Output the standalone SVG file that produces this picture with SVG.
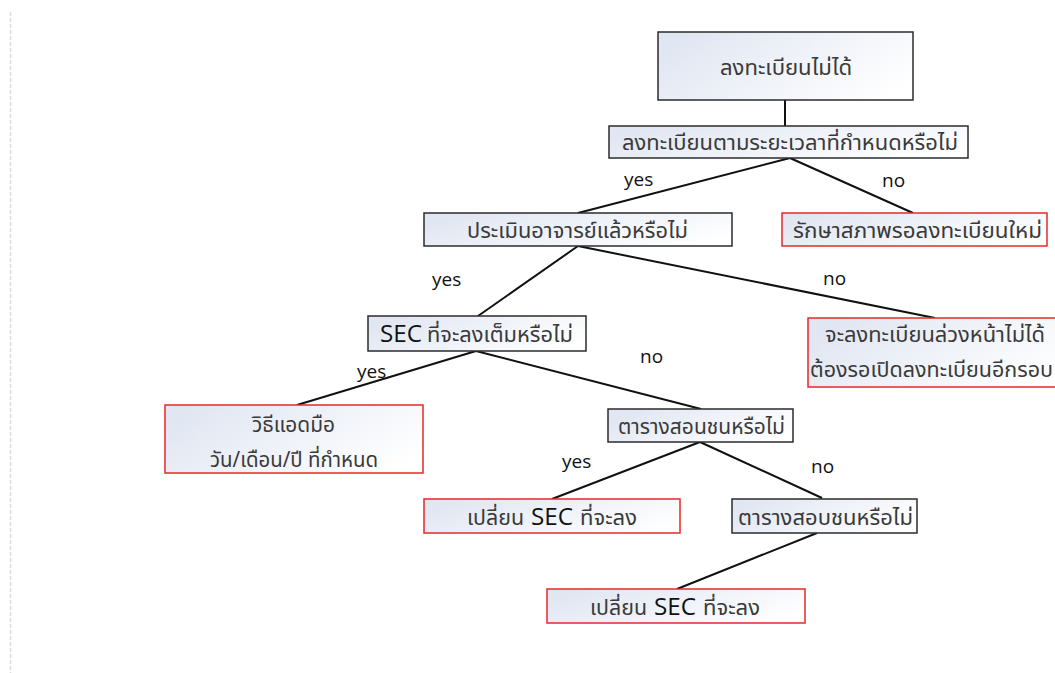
<svg xmlns="http://www.w3.org/2000/svg" width="1055" height="673" viewBox="0 0 1055 673">
  <style>
    .box { stroke: #2b2b2b; stroke-width: 1.5; fill: url(#g); }
    .rbox { stroke: #e8282b; stroke-width: 1.5; fill: url(#g); }
    .t { font-family: "Noto Sans", "Noto Sans Thai", "DejaVu Sans", sans-serif; font-size: 21px; fill: #3a3a3a; }
    .sec { font-family: "Open Sans", "Liberation Sans", sans-serif; font-size: 24px; fill: #111; }
    .lbl { font-family: "Open Sans", "Liberation Sans", sans-serif; font-size: 19px; fill: #111; }
    .c { stroke: #111; stroke-width: 2; fill: none; }
  </style>
  <defs>
    <linearGradient id="g" x1="0" y1="0.3" x2="1" y2="0.7">
      <stop offset="0" stop-color="#e0e6f2"/>
      <stop offset="1" stop-color="#ffffff"/>
    </linearGradient>
  </defs>
  <rect width="1055" height="673" fill="#ffffff"/>
  <line x1="10.5" y1="12" x2="10.5" y2="673" stroke="#dcdcdc" stroke-width="1.5" stroke-dasharray="4,2"/>

  <g id="connectors">
    <line class="c" x1="785" y1="100" x2="785" y2="126"/>
    <line class="c" x1="790" y1="158" x2="578" y2="213"/>
    <line class="c" x1="790" y1="158" x2="913" y2="213"/>
    <line class="c" x1="578" y1="246" x2="478" y2="316"/>
    <line class="c" x1="578" y1="246" x2="935" y2="318"/>
    <line class="c" x1="476" y1="351" x2="297" y2="405"/>
    <line class="c" x1="476" y1="351" x2="701" y2="409"/>
    <line class="c" x1="700" y1="442" x2="552" y2="499"/>
    <line class="c" x1="700" y1="442" x2="822" y2="498"/>
    <line class="c" x1="817" y1="533" x2="677" y2="589"/>
    <text class="lbl" x="624" y="186">yes</text>
    <text class="lbl" x="882" y="187">no</text>
    <text class="lbl" x="432" y="286">yes</text>
    <text class="lbl" x="823" y="285">no</text>
    <text class="lbl" x="357" y="378">yes</text>
    <text class="lbl" x="640" y="363">no</text>
    <text class="lbl" x="562" y="468">yes</text>
    <text class="lbl" x="811" y="473">no</text>
  </g>

  <g id="n1">
    <rect class="box" x="658" y="32" width="255" height="68"/>
    <text class="t" x="720" y="75" textLength="132" lengthAdjust="spacingAndGlyphs">ลงทะเบียนไม่ได้</text>
  </g>
  <g id="n2">
    <rect class="box" x="609" y="126" width="359" height="32"/>
    <text class="t" x="622" y="150" textLength="336" lengthAdjust="spacingAndGlyphs">ลงทะเบียนตามระยะเวลาที่กำหนดหรือไม่</text>
  </g>
  <g id="n3">
    <rect class="box" x="424" y="213" width="308" height="33"/>
    <text class="t" x="467" y="238" textLength="221" lengthAdjust="spacingAndGlyphs">ประเมินอาจารย์แล้วหรือไม่</text>
  </g>
  <g id="n4">
    <rect class="rbox" x="782" y="213" width="265" height="33"/>
    <text class="t" x="793" y="238" textLength="249" lengthAdjust="spacingAndGlyphs">รักษาสภาพรอลงทะเบียนใหม่</text>
  </g>
  <g id="n5">
    <rect class="box" x="368" y="316" width="218" height="35"/>
    <text class="sec" x="380" y="342" textLength="42" lengthAdjust="spacingAndGlyphs">SEC</text>
    <text class="t" x="427" y="342" textLength="146" lengthAdjust="spacingAndGlyphs">ที่จะลงเต็มหรือไม่</text>
  </g>
  <g id="n6">
    <rect class="rbox" x="808" y="318" width="260" height="69"/>
    <text class="t" x="825" y="342" textLength="220" lengthAdjust="spacingAndGlyphs">จะลงทะเบียนล่วงหน้าไม่ได้</text>
    <text class="t" x="810" y="377" textLength="243" lengthAdjust="spacingAndGlyphs">ต้องรอเปิดลงทะเบียนอีกรอบ</text>
  </g>
  <g id="n7">
    <rect class="rbox" x="165" y="405" width="258" height="68"/>
    <text class="t" x="252" y="432" textLength="83" lengthAdjust="spacingAndGlyphs">วิธีแอดมือ</text>
    <text class="t" x="210" y="467" textLength="168" lengthAdjust="spacingAndGlyphs">วัน/เดือน/ปี ที่กำหนด</text>
  </g>
  <g id="n8">
    <rect class="box" x="608" y="409" width="185" height="33"/>
    <text class="t" x="618" y="434" textLength="167" lengthAdjust="spacingAndGlyphs">ตารางสอนชนหรือไม่</text>
  </g>
  <g id="n9">
    <rect class="rbox" x="424" y="499" width="256" height="34"/>
    <text class="t" x="467" y="525" textLength="57" lengthAdjust="spacingAndGlyphs">เปลี่ยน</text>
    <text class="sec" x="531" y="525" textLength="42" lengthAdjust="spacingAndGlyphs">SEC</text>
    <text class="t" x="580" y="525" textLength="57" lengthAdjust="spacingAndGlyphs">ที่จะลง</text>
  </g>
  <g id="n10">
    <rect class="box" x="732" y="499" width="185" height="34"/>
    <text class="t" x="738" y="525" textLength="175" lengthAdjust="spacingAndGlyphs">ตารางสอบชนหรือไม่</text>
  </g>
  <g id="n11">
    <rect class="rbox" x="547" y="589" width="258" height="34"/>
    <text class="t" x="590" y="615" textLength="57" lengthAdjust="spacingAndGlyphs">เปลี่ยน</text>
    <text class="sec" x="654" y="615" textLength="42" lengthAdjust="spacingAndGlyphs">SEC</text>
    <text class="t" x="703" y="615" textLength="57" lengthAdjust="spacingAndGlyphs">ที่จะลง</text>
  </g>
</svg>
